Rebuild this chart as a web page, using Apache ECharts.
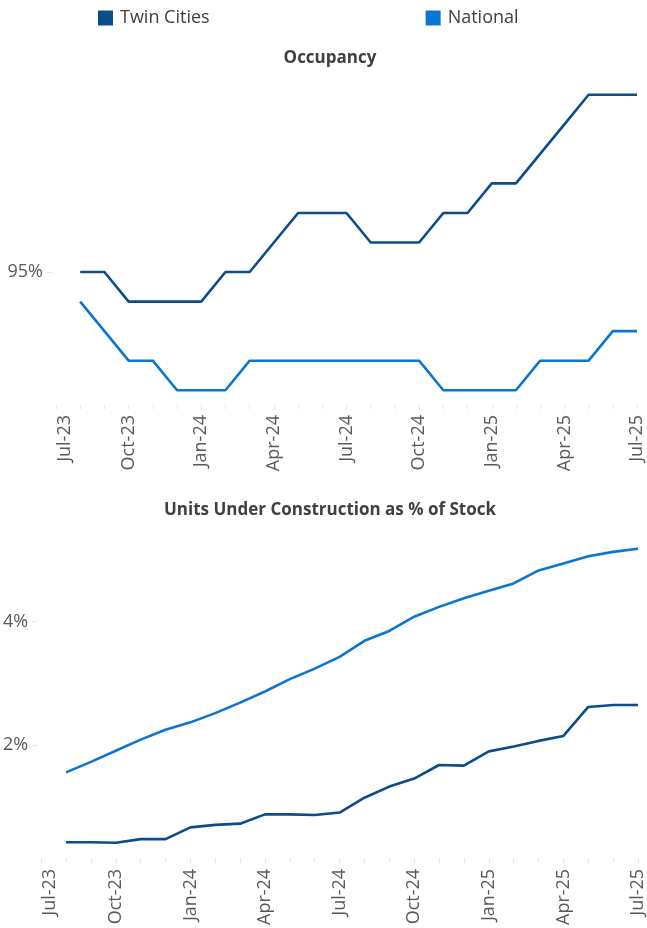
<!DOCTYPE html>
<html>
<head>
<meta charset="utf-8">
<title>Occupancy and Units Under Construction</title>
<script src="https://cdn.jsdelivr.net/npm/echarts@6.0.0/dist/echarts.min.js"></script>
<style>
    html, body { margin: 0; padding: 0; background: #ffffff; }
    #chart { width: 647px; height: 928px; }
</style>
</head>
<body>
<div id="chart"></div>
<script>
// monthly categories, Jul-23 .. Jul-25
const months = ['Jul-23', 'Aug-23', 'Sep-23', 'Oct-23', 'Nov-23', 'Dec-23', 'Jan-24', 'Feb-24', 'Mar-24',
    'Apr-24', 'May-24', 'Jun-24', 'Jul-24', 'Aug-24', 'Sep-24', 'Oct-24', 'Nov-24', 'Dec-24',
    'Jan-25', 'Feb-25', 'Mar-25', 'Apr-25', 'May-25', 'Jun-25', 'Jul-25'];

// occupancy, %
const occTwinCities = [null, 95.0, 95.0, 94.9, 94.9, 94.9, 94.9, 95.0, 95.0, 95.1, 95.2, 95.2, 95.2,
    95.1, 95.1, 95.1, 95.2, 95.2, 95.3, 95.3, 95.4, 95.5, 95.6, 95.6, 95.6];
const occNational = [null, 94.9, 94.8, 94.7, 94.7, 94.6, 94.6, 94.6, 94.7, 94.7, 94.7, 94.7, 94.7,
    94.7, 94.7, 94.7, 94.6, 94.6, 94.6, 94.6, 94.7, 94.7, 94.7, 94.8, 94.8];

// units under construction as % of stock
const ucTwinCities = [null, 0.43, 0.43, 0.42, 0.48, 0.48, 0.67, 0.71, 0.73, 0.88, 0.88, 0.87, 0.91,
    1.15, 1.33, 1.46, 1.68, 1.67, 1.90, 1.98, 2.07, 2.15, 2.62, 2.65, 2.65];
const ucNational = [null, 1.56, 1.73, 1.91, 2.09, 2.25, 2.37, 2.52, 2.69, 2.87, 3.07, 3.24, 3.43,
    3.69, 3.85, 4.08, 4.24, 4.38, 4.50, 4.62, 4.83, 4.94, 5.06, 5.13, 5.18];

// value axis labels
const occTicks = [95];
const ucTicks = [2, 4];

const COLOR_TWIN = '#0B4C8A';
const COLOR_NATIONAL = '#0B76D2';
const FONT = '"Open Sans", sans-serif';

const chart = echarts.init(document.getElementById('chart'), null, { renderer: 'canvas' });

const xAxisFor = (gridIndex) => ({
    type: 'category',
    gridIndex: gridIndex,
    data: months,
    boundaryGap: false,
    axisLine: { show: false },
    axisTick: {
        show: true,
        interval: 0,
        length: 4,
        lineStyle: { color: '#e3e3e3', width: 1 }
    },
    axisLabel: {
        interval: 2,
        rotate: 90,
        margin: 10,
        fontFamily: FONT,
        fontSize: 18,
        color: '#595959',
        // first label sits a little to the right of its tick in the original
        formatter: (v, i) => i === 0 ? '{first|' + v + '}' : v,
        rich: {
            first: { fontFamily: FONT, fontSize: 18, color: '#595959', padding: [18, 0, 0, 0] }
        }
    },
    splitLine: { show: false }
});

const yAxisFor = (gridIndex, min, max, ticks) => ({
    type: 'value',
    gridIndex: gridIndex,
    min: min,
    max: max,
    offset: 4,
    axisLine: { show: false },
    axisTick: {
        show: true,
        length: 5,
        customValues: ticks,
        lineStyle: { color: '#e3e3e3', width: 1 }
    },
    axisLabel: {
        customValues: ticks,
        margin: 9,
        fontFamily: FONT,
        fontSize: 18,
        color: '#595959',
        formatter: (v) => Math.round(v) + '%'
    },
    splitLine: { show: false }
});

const lineSeries = (name, color, data, gridIndex) => ({
    name: name,
    type: 'line',
    xAxisIndex: gridIndex,
    yAxisIndex: gridIndex,
    data: data,
    showSymbol: false,
    symbol: 'none',
    smooth: false,
    connectNulls: false,
    lineStyle: { color: color, width: 2.6 },
    itemStyle: { color: color },
    emphasis: { disabled: true }
});

const option = {
    backgroundColor: '#ffffff',
    animation: false,
    textStyle: { fontFamily: FONT },
    legend: {
        data: ['Twin Cities', 'National'],
        left: 98,
        top: 9,
        padding: 0,
        icon: 'rect',
        itemWidth: 15,
        itemHeight: 15,
        itemGap: 216,
        textStyle: { fontFamily: FONT, fontSize: 18, color: '#404040', padding: [0, 0, 0, 2] }
    },
    title: [{
        text: 'Occupancy',
        left: 330,
        top: 50,
        padding: 0,
        textAlign: 'center',
        textStyle: { fontFamily: FONT, fontSize: 17, fontWeight: 'bold', color: '#404040' }
    }, {
        text: 'Units Under Construction as % of Stock',
        left: 330,
        top: 502,
        padding: 0,
        textAlign: 'center',
        textStyle: { fontFamily: FONT, fontSize: 17, fontWeight: 'bold', color: '#404040' }
    }],
    grid: [
        { left: 56, right: 10, top: 80, height: 325 },
        { left: 39, right: 8, top: 531.5, height: 330.5 }
    ],
    xAxis: [xAxisFor(0), xAxisFor(1)],
    yAxis: [
        yAxisFor(0, 94.55, 95.65, occTicks),
        yAxisFor(1, 0.16, 5.46, ucTicks)
    ],
    series: [
        lineSeries('Twin Cities', COLOR_TWIN, occTwinCities, 0),
        lineSeries('National', COLOR_NATIONAL, occNational, 0),
        lineSeries('Twin Cities', COLOR_TWIN, ucTwinCities, 1),
        lineSeries('National', COLOR_NATIONAL, ucNational, 1)
    ]
};

chart.setOption(option);
window.addEventListener('resize', () => chart.resize());
</script>
</body>
</html>
